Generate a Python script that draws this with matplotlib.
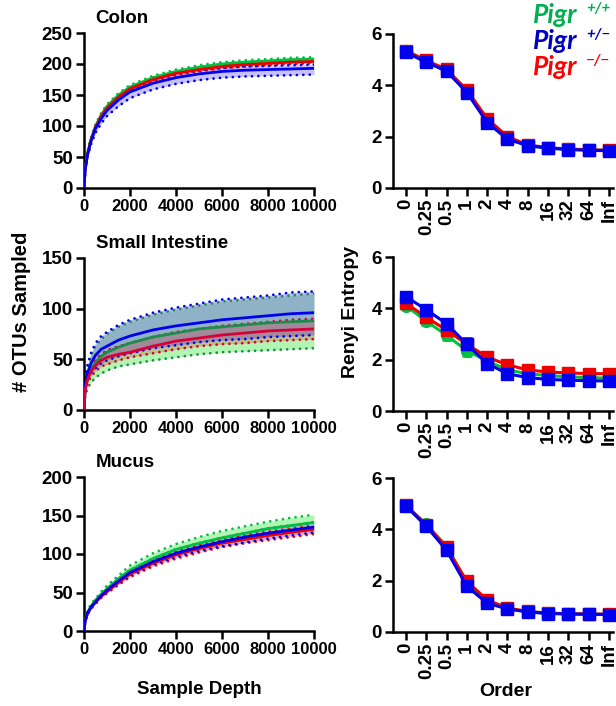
import matplotlib
matplotlib.use("Agg")
import matplotlib.pyplot as plt
import numpy as np

plt.rcParams['font.family'] = ['Liberation Sans', 'DejaVu Sans']
plt.rcParams['font.weight'] = 'bold'

# ---------------- data ----------------
depth = [0, 50, 150, 300, 500, 750, 1000, 1500, 2000, 3000, 4000, 5000, 6000, 7000, 8000, 9000, 10000]

# Colon rarefaction
colon_wt_mean = [0, 30, 55, 78, 100, 118, 132, 150, 163, 178, 188, 195, 200, 203, 205, 207, 208]
colon_wt_up   = [0, 31, 57, 81, 103, 121, 135, 153, 166, 181, 191, 198, 203, 206, 208, 210, 211]
colon_wt_lo   = [0, 29, 53, 75, 97, 115, 129, 147, 160, 175, 185, 192, 197, 200, 202, 204, 205]
colon_ko_mean = [0, 29, 54, 77, 98, 116, 129, 147, 160, 175, 185, 191, 196, 199, 201, 203, 204]
colon_ko_up   = [0, 30, 56, 80, 101, 119, 132, 150, 163, 178, 188, 194, 199, 202, 204, 206, 207]
colon_ko_lo   = [0, 28, 52, 74, 95, 113, 126, 144, 157, 172, 182, 188, 193, 196, 198, 200, 201]
colon_het_mean = [0, 29, 53, 75, 96, 112, 125, 142, 155, 169, 178, 184, 188, 190, 191, 192, 193]
colon_het_up   = [0, 30, 55, 78, 99, 116, 129, 147, 160, 175, 184, 190, 194, 196, 197, 198, 199]
colon_het_lo   = [0, 27, 50, 70, 89, 104, 116, 132, 145, 159, 168, 174, 178, 180, 181, 182, 183]

# Small intestine rarefaction
si_wt_mean = [0, 20, 31, 40, 47, 53, 57, 62, 66, 72, 76, 80, 82, 84, 86, 87, 88]
si_wt_up   = [0, 27, 42, 54, 63, 70, 75, 82, 87, 94, 99, 103, 107, 109, 111, 113, 115]
si_wt_lo   = [0, 14, 21, 27, 32, 36, 39, 43, 45, 49, 52, 55, 57, 58, 59, 60, 61]
si_het_mean = [0, 24, 36, 46, 54, 60, 63, 69, 73, 79, 83, 86, 89, 91, 93, 95, 96]
si_het_up   = [0, 29, 44, 56, 66, 73, 77, 84, 89, 96, 101, 105, 109, 111, 113, 116, 117]
si_het_lo   = [0, 19, 28, 36, 41, 46, 49, 53, 56, 61, 64, 67, 69, 70, 72, 73, 74]
si_ko_mean = [0, 20, 30, 38, 44, 49, 52, 55, 57, 63, 68, 71, 74, 76, 78, 79, 80]
si_ko_up   = [0, 23, 34, 43, 50, 55, 59, 63, 66, 72, 77, 80, 83, 85, 87, 89, 90]
si_ko_lo   = [0, 17, 26, 33, 38, 43, 45, 49, 52, 56, 60, 63, 65, 66, 68, 69, 70]

# Mucus rarefaction
mu_wt_mean = [0, 14, 24, 32, 40, 48, 55, 68, 79, 94, 106, 114, 121, 127, 133, 137, 141]
mu_wt_up   = [0, 15, 26, 35, 42, 51, 59, 72, 85, 101, 113, 122, 130, 136, 142, 147, 151]
mu_wt_lo   = [0, 13, 22, 30, 37, 45, 51, 63, 74, 88, 99, 107, 114, 119, 124, 128, 132]
mu_het_mean = [0, 13, 23, 31, 38, 46, 53, 65, 76, 90, 101, 109, 116, 122, 127, 131, 135]
mu_het_up   = [0, 14, 24, 32, 39, 48, 55, 68, 79, 94, 106, 114, 121, 127, 133, 137, 141]
mu_het_lo   = [0, 13, 22, 29, 36, 44, 50, 61, 72, 86, 96, 104, 110, 115, 120, 124, 128]
mu_ko_mean = [0, 13, 22, 30, 37, 45, 51, 63, 74, 88, 99, 107, 114, 119, 124, 128, 132]
mu_ko_up   = [0, 14, 23, 32, 38, 47, 53, 66, 77, 92, 103, 111, 118, 124, 129, 133, 137]
mu_ko_lo   = [0, 12, 21, 29, 35, 43, 49, 60, 70, 84, 94, 102, 109, 114, 118, 122, 126]

# Renyi entropy
orders = ['0', '0.25', '0.5', '1', '2', '4', '8', '16', '32', '64', 'Inf']

colon_wt_renyi  = [5.32, 4.94, 4.58, 3.78, 2.62, 1.95, 1.66, 1.56, 1.51, 1.48, 1.46]
colon_het_renyi = [5.28, 4.90, 4.55, 3.72, 2.55, 1.90, 1.65, 1.55, 1.50, 1.47, 1.45]
colon_ko_renyi  = [5.35, 4.97, 4.62, 3.82, 2.70, 2.00, 1.68, 1.57, 1.52, 1.49, 1.47]
colon_wt_sem  = [0.05, 0.05, 0.05, 0.06, 0.08, 0.06, 0.05, 0.04, 0.04, 0.04, 0.04]
colon_het_sem = [0.05, 0.05, 0.05, 0.06, 0.08, 0.06, 0.05, 0.04, 0.04, 0.04, 0.04]
colon_ko_sem  = [0.05, 0.05, 0.05, 0.06, 0.08, 0.06, 0.05, 0.04, 0.04, 0.04, 0.04]

si_wt_renyi  = [4.10, 3.50, 2.95, 2.35, 1.95, 1.60, 1.45, 1.38, 1.33, 1.30, 1.28]
si_het_renyi = [4.45, 3.95, 3.40, 2.60, 1.85, 1.45, 1.30, 1.23, 1.20, 1.18, 1.17]
si_ko_renyi  = [4.20, 3.65, 3.15, 2.60, 2.10, 1.80, 1.60, 1.52, 1.48, 1.46, 1.45]
si_wt_sem  = [0.10, 0.15, 0.18, 0.20, 0.12, 0.10, 0.08, 0.08, 0.08, 0.08, 0.08]
si_het_sem = [0.10, 0.15, 0.20, 0.25, 0.20, 0.15, 0.13, 0.12, 0.12, 0.12, 0.12]
si_ko_sem  = [0.08, 0.10, 0.12, 0.15, 0.10, 0.08, 0.07, 0.07, 0.07, 0.07, 0.07]

mu_wt_renyi  = [4.92, 4.20, 3.33, 1.90, 1.20, 0.92, 0.79, 0.73, 0.71, 0.70, 0.69]
mu_het_renyi = [4.90, 4.12, 3.18, 1.78, 1.12, 0.90, 0.78, 0.72, 0.70, 0.69, 0.68]
mu_ko_renyi  = [4.93, 4.18, 3.30, 1.97, 1.25, 0.93, 0.80, 0.74, 0.71, 0.70, 0.69]
mu_wt_sem  = [0.05, 0.05, 0.06, 0.06, 0.05, 0.04, 0.03, 0.03, 0.03, 0.03, 0.03]
mu_het_sem = [0.05, 0.05, 0.06, 0.06, 0.05, 0.04, 0.03, 0.03, 0.03, 0.03, 0.03]
mu_ko_sem  = [0.05, 0.05, 0.06, 0.06, 0.05, 0.04, 0.03, 0.03, 0.03, 0.03, 0.03]

# ---------------- style ----------------
GREEN = '#00C040'
GREEN_FILL = '#00E000'
BLUE = '#0000EE'
BLUE_FILL = '#4E36F0'
RED = '#EE0000'
LEG_GREEN = '#00B050'
LEG_BLUE = '#0000C0'
LEG_RED = '#FF0000'

W, H = 616, 706
fig = plt.figure(figsize=(W / 100, H / 100), dpi=100)


def ax_px(left, top, right, bottom):
    return fig.add_axes([left / W, 1 - bottom / H, (right - left) / W, (bottom - top) / H])


def style(ax, xfs, yfs):
    for s in ['top', 'right']:
        ax.spines[s].set_visible(False)
    for s in ['left', 'bottom']:
        ax.spines[s].set_linewidth(1.8)
    ax.tick_params(width=1.8, length=6, direction='out', pad=2)
    for lab in ax.get_yticklabels():
        lab.set_fontweight('bold')
        lab.set_fontsize(yfs)
    for lab in ax.get_xticklabels():
        lab.set_fontweight('bold')
        lab.set_fontsize(xfs)


DOT = (0, (0.01, 2.3))


def rare(ax, groups, ymax, yticks, title):
    d = np.array(depth)
    for mean, lo, up, col, fcol, alpha in groups:
        ax.fill_between(d, lo, up, color=fcol, alpha=alpha, linewidth=0, zorder=1)
    for mean, lo, up, col, fcol, alpha in groups:
        ax.plot(d, lo, color=col, lw=2.0, ls=DOT, dash_capstyle='round', zorder=2)
        ax.plot(d, up, color=col, lw=2.0, ls=DOT, dash_capstyle='round', zorder=2)
        ax.plot(d, mean, color=col, lw=2.0, zorder=3)
    ax.set_xlim(0, 10000)
    ax.set_ylim(0, ymax)
    ax.set_xticks([0, 2000, 4000, 6000, 8000, 10000])
    ax.set_yticks(yticks)
    style(ax, 12, 13.5)
    ax.set_title(title, fontsize=13.5, fontweight='bold', loc='left', x=0.05, pad=7)


def renyi(ax, series):
    x = np.arange(len(orders))
    for vals, sem, col, mk in series:
        ax.errorbar(x, vals, yerr=sem, color=col, lw=2.2, marker=mk, ms=8.5,
                    capsize=3.5, capthick=1.8, elinewidth=1.8, clip_on=False)
    ax.set_xlim(-0.64, 10.2)
    ax.set_ylim(0, 6)
    ax.set_yticks([0, 2, 4, 6])
    ax.set_xticks(x)
    ax.set_xticklabels(orders, rotation=90)
    style(ax, 13.5, 13.5)


# left panels
ax1 = ax_px(84, 33, 314, 188)
rare(ax1, [
    (colon_wt_mean, colon_wt_lo, colon_wt_up, GREEN, GREEN_FILL, 0.28),
    (colon_ko_mean, colon_ko_lo, colon_ko_up, RED, RED, 0.2),
    (colon_het_mean, colon_het_lo, colon_het_up, BLUE, BLUE_FILL, 0.3),
], 250, [0, 50, 100, 150, 200, 250], 'Colon')

ax2 = ax_px(84, 258, 314, 410)
rare(ax2, [
    (si_wt_mean, si_wt_lo, si_wt_up, '#1E8C4A', GREEN_FILL, 0.3),
    (si_het_mean, si_het_lo, si_het_up, BLUE, BLUE_FILL, 0.35),
    (si_ko_mean, si_ko_lo, si_ko_up, '#D8003A', RED, 0.22),
], 150, [0, 50, 100, 150], 'Small Intestine')

ax3 = ax_px(84, 477, 314, 631)
rare(ax3, [
    (mu_wt_mean, mu_wt_lo, mu_wt_up, GREEN, GREEN_FILL, 0.3),
    (mu_ko_mean, mu_ko_lo, mu_ko_up, RED, RED, 0.2),
    (mu_het_mean, mu_het_lo, mu_het_up, BLUE, BLUE_FILL, 0.25),
], 200, [0, 50, 100, 150, 200], 'Mucus')

# right panels
ax4 = ax_px(393, 34, 613, 188)
renyi(ax4, [(colon_wt_renyi, colon_wt_sem, GREEN, 'o'),
            (colon_ko_renyi, colon_ko_sem, RED, 's'),
            (colon_het_renyi, colon_het_sem, BLUE, 's')])
ax5 = ax_px(393, 257, 613, 411)
renyi(ax5, [(si_wt_renyi, si_wt_sem, GREEN, 'o'),
            (si_ko_renyi, si_ko_sem, RED, 's'),
            (si_het_renyi, si_het_sem, BLUE, 's')])
ax6 = ax_px(393, 478, 613, 632)
renyi(ax6, [(mu_wt_renyi, mu_wt_sem, GREEN, 'o'),
            (mu_ko_renyi, mu_ko_sem, RED, 's'),
            (mu_het_renyi, mu_het_sem, BLUE, 's')])

# axis labels
fig.text(22 / W, 1 - 312 / H, '# OTUs Sampled', rotation=90, ha='center', va='center',
         fontsize=14.5, fontweight='bold')
fig.text(350 / W, 1 - 312 / H, 'Renyi Entropy', rotation=90, ha='center', va='center',
         fontsize=14, fontweight='bold')
fig.text(199 / W, 1 - 689 / H, 'Sample Depth', ha='center', va='center',
         fontsize=13.5, fontweight='bold')
fig.text(506 / W, 1 - 692 / H, 'Order', ha='center', va='center',
         fontsize=14, fontweight='bold')

# legend texts
leg = [('+/+', LEG_GREEN, 23), ('+/\u2212', LEG_BLUE, 49), ('\u2212/\u2212', LEG_RED, 75)]
for sup, col, base in leg:
    fig.text(533 / W, 1 - base / H, 'Pigr', color=col, fontsize=19, fontweight='bold',
             style='italic', ha='left', va='baseline', family=['Lato', 'Liberation Sans'])
    fig.text(586 / W, 1 - (base - 10) / H, sup, color=col, fontsize=11, fontweight='bold',
             style='italic', ha='left', va='baseline', family=['Lato', 'Liberation Sans'])

fig.savefig('out.png', dpi=100)
